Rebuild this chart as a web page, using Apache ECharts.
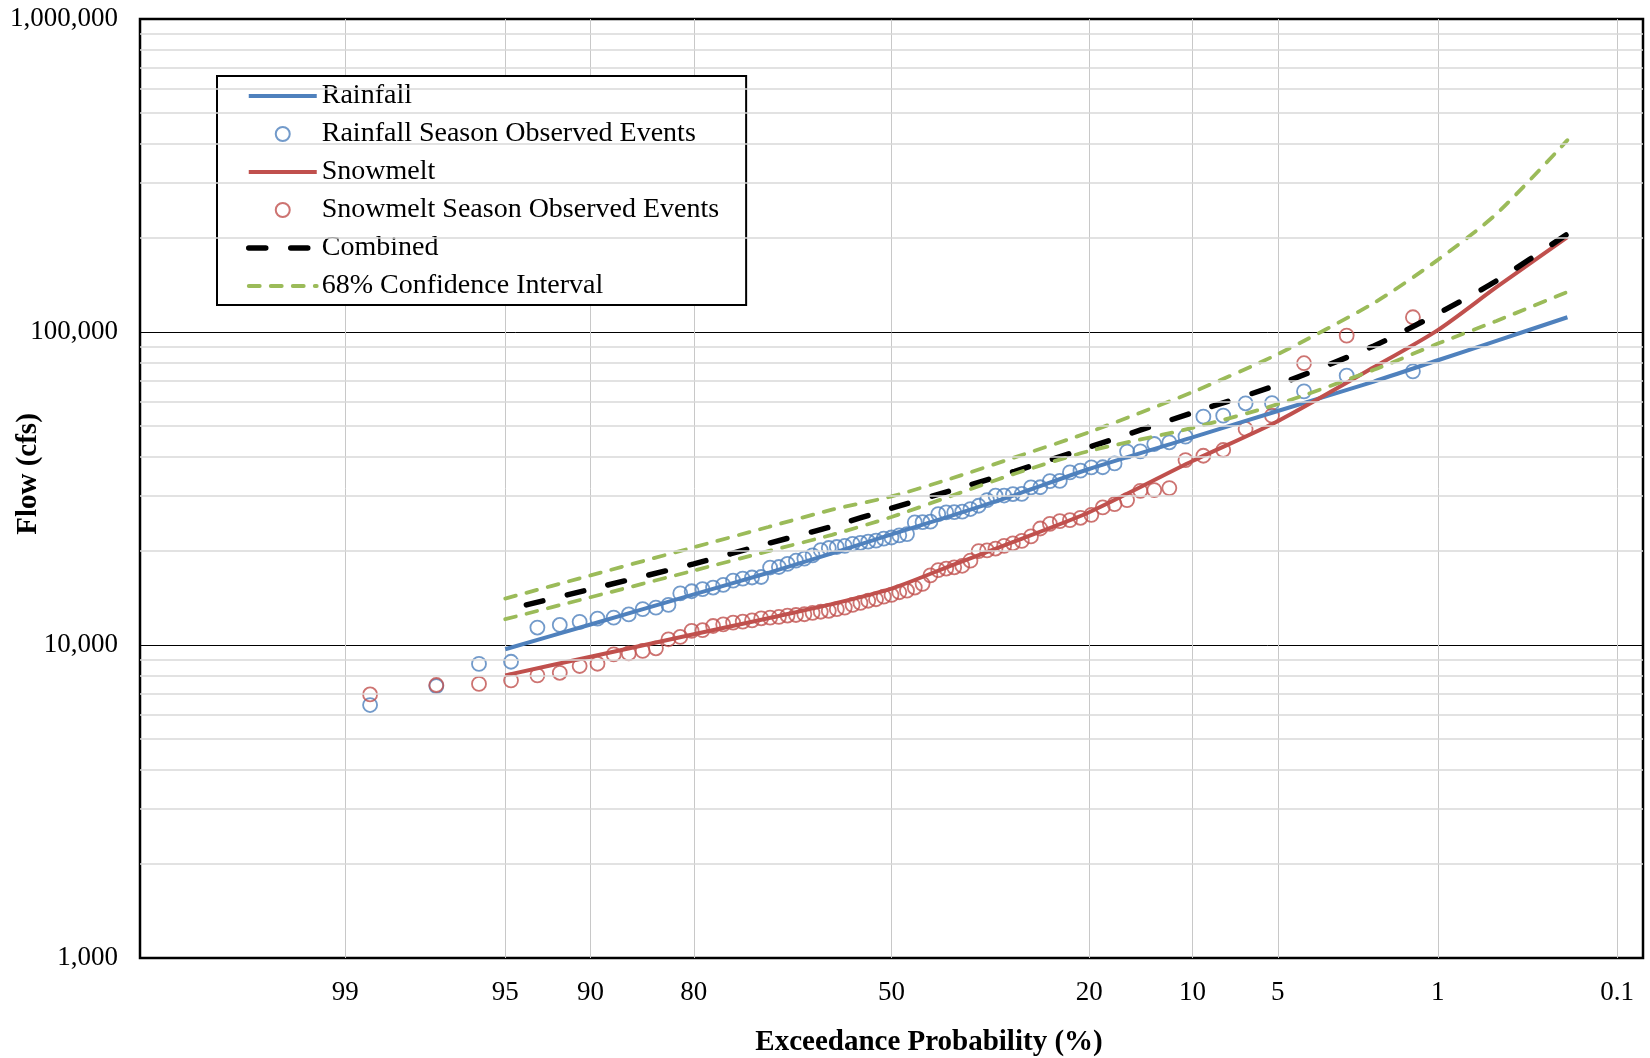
<!DOCTYPE html>
<html>
<head>
<meta charset="utf-8">
<title>Flow Frequency</title>
<script src="https://cdn.jsdelivr.net/npm/echarts@6/dist/echarts.min.js"></script>
<style>
  html, body { margin: 0; padding: 0; background: #fff; }
  #chart { width: 1650px; height: 1058px; }
</style>
</head>
<body>
<div id="chart"></div>
<script>
// x axis tick labels (exceedance probability, %)
const probTicks = [99, 95, 90, 80, 50, 20, 10, 5, 1, 0.1];

// plotting positions of the observed events (exceedance, %)
const eventProb = [98.68, 97.37, 96.05, 94.74, 93.42, 92.11, 90.79, 89.47, 88.16, 86.84,
  85.53, 84.21, 82.89, 81.58, 80.26, 78.95, 77.63, 76.32, 75.00, 73.68,
  72.37, 71.05, 69.74, 68.42, 67.11, 65.79, 64.47, 63.16, 61.84, 60.53,
  59.21, 57.89, 56.58, 55.26, 53.95, 52.63, 51.32, 50.00, 48.68, 47.37,
  46.05, 44.74, 43.42, 42.11, 40.79, 39.47, 38.16, 36.84, 35.53, 34.21,
  32.89, 31.58, 30.26, 28.95, 27.63, 26.32, 25.00, 23.68, 22.37, 21.05,
  19.74, 18.42, 17.11, 15.79, 14.47, 13.16, 11.84, 10.53, 9.21, 7.89,
  6.58, 5.26, 3.95, 2.63, 1.32];

// observed peak flows (cfs)
const rainfallObs = [6430, 7390, 8700, 8840, 11370, 11590, 11860, 12140, 12230, 12520,
  13020, 13170, 13430, 14620, 14850, 15080, 15260, 15560, 16050, 16300,
  16430, 16490, 17680, 17750, 18170, 18590, 18880, 19330, 20090, 20410,
  20560, 20720, 21050, 21210, 21380, 21540, 21880, 22050, 22400, 22610,
  24640, 24680, 24770, 26200, 26520, 26560, 26660, 27190, 27850, 29040,
  29990, 30030, 30360, 30400, 31880, 31920, 33390, 33440, 35610, 36060,
  36930, 36980, 38030, 41490, 41550, 43870, 44420, 46320, 53650, 54030,
  59180, 59260, 64620, 72540, 74880];

const snowmeltObs = [6950, 7450, 7510, 7710, 8000, 8150, 8570, 8710, 9330, 9400,
  9570, 9760, 10430, 10610, 11090, 11150, 11500, 11640, 11790, 11880,
  11990, 12170, 12230, 12290, 12420, 12470, 12540, 12670, 12770, 12860,
  13020, 13170, 13430, 13630, 13850, 14000, 14280, 14450, 14740, 14910,
  15260, 15680, 16690, 17350, 17550, 17710, 17910, 18600, 19940, 20050,
  20330, 20730, 21130, 21510, 22230, 23560, 24390, 24870, 25060, 25490,
  26050, 27510, 28200, 29040, 31090, 31250, 31720, 38980, 40240, 41970,
  49000, 54030, 79480, 97400, 111450];

// fitted frequency curves (cfs)
const fitProb = [95, 90, 80, 70, 60, 50, 40, 30, 20, 10, 5, 2, 1, 0.5, 0.2];
const rainfallFit = [9690, 11630, 14510, 17010, 19630, 22570, 25850, 30120, 36500, 46060, 55910, 69460, 81240, 93700, 111450];
const snowmeltFit = [8000, 9170, 10820, 12180, 13510, 15140, 17930, 21430, 26560, 38710, 51900, 77130, 101400, 139000, 201000];
const ciUpper = [14070, 16690, 20520, 23830, 27060, 29840, 34010, 39750, 47870, 64280, 84960, 123780, 169990, 238350, 410100];
const ciLower = [12090, 14210, 17290, 19940, 22490, 25650, 29920, 35250, 41650, 49380, 58810, 75710, 91840, 108490, 134230];

const combinedProb = [94, 90, 80, 70, 60, 50, 40, 30, 20, 10, 5, 2, 1, 0.5, 0.2];
const combinedFit = [13430, 15080, 18170, 21120, 23920, 27340, 31140, 35890, 42850, 55220, 67850, 90280, 114530, 145660, 205640];

// light grid lines at 2..9 of every decade
const minorGrid = [];
[1000, 10000, 100000].forEach(function (d) {
  for (let m = 2; m <= 9; m++) minorGrid.push(m * d);
});

const FONT = '"Liberation Serif", "Times New Roman", serif';
const BLUE = '#4F81BD';
const RED = '#C0504D';
const GREEN = '#9BBB59';

// inverse standard normal (Acklam)
function probit(p) {
  const a = [-3.969683028665376e+01, 2.209460984245205e+02, -2.759285104469687e+02, 1.383577518672690e+02, -3.066479806614716e+01, 2.506628277459239e+00];
  const b = [-5.447609879822406e+01, 1.615858368580409e+02, -1.556989798598866e+02, 6.680131188771972e+01, -1.328068155288572e+01];
  const c = [-7.784894002430293e-03, -3.223964580411365e-01, -2.400758277161838e+00, -2.549732539343734e+00, 4.374664141464968e+00, 2.938163982698783e+00];
  const d = [7.784695709041462e-03, 3.224671290700398e-01, 2.445134137142996e+00, 3.754408661907416e+00];
  const pl = 0.02425;
  let q, r;
  if (p < pl) {
    q = Math.sqrt(-2 * Math.log(p));
    return (((((c[0] * q + c[1]) * q + c[2]) * q + c[3]) * q + c[4]) * q + c[5]) /
      ((((d[0] * q + d[1]) * q + d[2]) * q + d[3]) * q + 1);
  }
  if (p <= 1 - pl) {
    q = p - 0.5;
    r = q * q;
    return (((((a[0] * r + a[1]) * r + a[2]) * r + a[3]) * r + a[4]) * r + a[5]) * q /
      (((((b[0] * r + b[1]) * r + b[2]) * r + b[3]) * r + b[4]) * r + 1);
  }
  q = Math.sqrt(-2 * Math.log(1 - p));
  return -(((((c[0] * q + c[1]) * q + c[2]) * q + c[3]) * q + c[4]) * q + c[5]) /
    ((((d[0] * q + d[1]) * q + d[2]) * q + d[3]) * q + 1);
}

// exceedance % -> position on the normal probability scale
function probX(pct) {
  return probit(1 - pct / 100);
}

function pairs(probs, vals) {
  return probs.map(function (p, i) { return [probX(p), vals[i]]; });
}

const tickZ = probTicks.map(probX);

function probLabel(v) {
  for (let i = 0; i < tickZ.length; i++) {
    if (Math.abs(tickZ[i] - v) < 1e-6) return String(probTicks[i]);
  }
  return '';
}

function commas(v) {
  return String(Math.round(v)).replace(/\B(?=(\d{3})+(?!\d))/g, ',');
}

const chart = echarts.init(document.getElementById('chart'));

chart.setOption({
  backgroundColor: '#fff',
  animation: false,
  grid: {
    left: 140,
    right: 7,
    top: 19,
    bottom: 100,
    show: true,
    borderColor: '#000',
    borderWidth: 2.5,
    containLabel: false,
    outerBoundsMode: 'none'
  },
  legend: {
    orient: 'vertical',
    left: 217,
    top: 76,
    selectedMode: false,
    backgroundColor: '#fff',
    borderColor: '#000',
    borderWidth: 2,
    padding: [4, 27, 3, 29],
    itemWidth: 68,
    itemHeight: 14,
    itemGap: 6,
    lineStyle: { width: 'inherit' },
    textStyle: { fontFamily: FONT, fontSize: 28, lineHeight: 28, color: '#000', padding: [4, 0, 0, 0] },
    data: [
      { name: 'Rainfall', itemStyle: { opacity: 0 } },
      'Rainfall Season Observed Events',
      { name: 'Snowmelt', itemStyle: { opacity: 0 } },
      'Snowmelt Season Observed Events',
      { name: 'Combined', itemStyle: { opacity: 0 } },
      { name: '68% Confidence Interval', itemStyle: { opacity: 0 } }
    ]
  },
  xAxis: {
    type: 'value',
    min: -3.2,
    max: 3.2,
    axisLine: { show: false },
    axisTick: { show: false, customValues: tickZ },
    axisLabel: {
      customValues: tickZ,
      formatter: probLabel,
      margin: 21,
      fontFamily: FONT,
      fontSize: 27,
      color: '#000'
    },
    splitLine: { show: true, lineStyle: { color: '#c8c8c8', width: 1 } },
    name: 'Exceedance Probability (%)',
    nameLocation: 'middle',
    nameGap: 70,
    nameMoveOverlap: false,
    nameTextStyle: {
      fontFamily: FONT,
      fontSize: 29,
      fontWeight: 'bold',
      color: '#000',
      padding: [0, 0, 0, 75]
    }
  },
  yAxis: {
    type: 'log',
    logBase: 10,
    min: 1000,
    max: 1000000,
    axisLine: { show: false },
    axisTick: { show: true, inside: false, length: 7, lineStyle: { color: '#000', width: 1 } },
    axisLabel: {
      formatter: commas,
      margin: 22,
      fontFamily: FONT,
      fontSize: 27,
      color: '#000'
    },
    splitLine: { show: true, lineStyle: { color: '#000', width: 1 } },
    name: 'Flow (cfs)',
    nameLocation: 'middle',
    nameGap: 97,
    nameRotate: 90,
    nameMoveOverlap: false,
    nameTextStyle: {
      fontFamily: FONT,
      fontSize: 29,
      fontWeight: 'bold',
      color: '#000',
      padding: [0, 0, 0, 29]
    }
  },
  series: [
    {
      // minor horizontal grid lines
      type: 'line',
      data: [],
      silent: true,
      z: 1,
      markLine: {
        silent: true,
        symbol: 'none',
        animation: false,
        label: { show: false },
        lineStyle: { color: '#d9d9d9', width: 1.5, type: 'solid' },
        data: minorGrid.map(function (v) { return { yAxis: v }; })
      }
    },
    {
      name: 'Rainfall',
      type: 'line',
      data: pairs(fitProb, rainfallFit),
      symbol: 'none',
      smooth: 0.25,
      itemStyle: { color: BLUE },
      lineStyle: { color: BLUE, width: 4 }
    },
    {
      name: 'Rainfall Season Observed Events',
      type: 'scatter',
      data: pairs(eventProb, rainfallObs),
      symbol: 'circle',
      symbolSize: 14,
      itemStyle: { color: 'rgba(0,0,0,0)', borderColor: BLUE, borderWidth: 1.8 }
    },
    {
      name: 'Snowmelt',
      type: 'line',
      data: pairs(fitProb, snowmeltFit),
      symbol: 'none',
      smooth: 0.25,
      itemStyle: { color: RED },
      lineStyle: { color: RED, width: 4 }
    },
    {
      name: 'Snowmelt Season Observed Events',
      type: 'scatter',
      data: pairs(eventProb, snowmeltObs),
      symbol: 'circle',
      symbolSize: 14,
      itemStyle: { color: 'rgba(0,0,0,0)', borderColor: RED, borderWidth: 1.8 }
    },
    {
      name: 'Combined',
      type: 'line',
      data: pairs(combinedProb, combinedFit),
      symbol: 'none',
      smooth: 0.25,
      itemStyle: { color: '#000' },
      lineStyle: { color: '#000', width: 5.5, type: [17, 25], cap: 'round' }
    },
    {
      name: '68% Confidence Interval',
      type: 'line',
      data: pairs(fitProb, ciUpper),
      symbol: 'none',
      smooth: 0.25,
      itemStyle: { color: GREEN },
      lineStyle: { color: GREEN, width: 3.8, type: [11, 11], cap: 'round' }
    },
    {
      name: '68% Confidence Interval',
      type: 'line',
      data: pairs(fitProb, ciLower),
      symbol: 'none',
      smooth: 0.25,
      itemStyle: { color: GREEN },
      lineStyle: { color: GREEN, width: 3.8, type: [11, 11], cap: 'round' }
    }
  ]
});
</script>
</body>
</html>
